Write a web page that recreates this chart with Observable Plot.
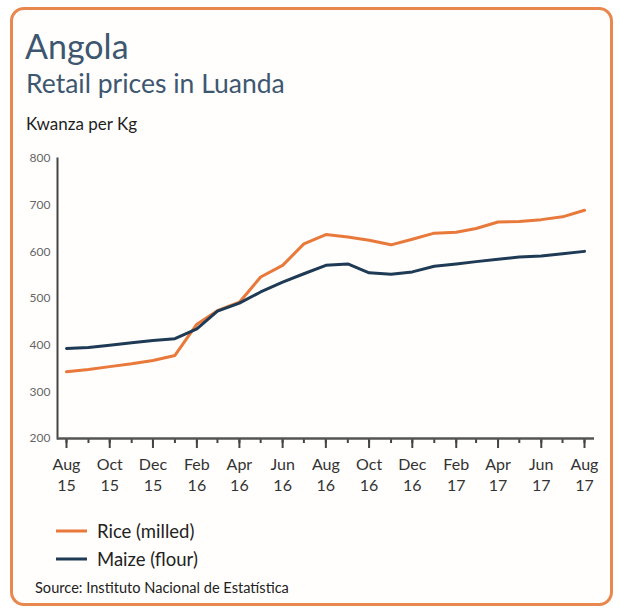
<!DOCTYPE html>
<html>
<head>
<meta charset="utf-8">
<script src="https://cdn.jsdelivr.net/npm/d3@7"></script>
<script src="https://cdn.jsdelivr.net/npm/@observablehq/plot@0.6"></script>
<style>
  html, body { margin: 0; padding: 0; background: #ffffff; }
  body { width: 620px; height: 611px; position: relative; overflow: hidden; font-family: Lato, "Open Sans", sans-serif; }
  .frame { position: absolute; left: 10px; top: 7px; width: 603px; height: 599px; box-sizing: border-box;
           border: 3px solid #E8874E; border-radius: 14px; background: #fffefc; }
  .t { position: absolute; white-space: nowrap; line-height: 1; }
  #title { left: 25px; top: 29px; font-size: 34px; color: #3e5771; }
  #subtitle { left: 26px; top: 70px; font-size: 26.5px; color: #3e5771; }
  #unit { left: 26px; top: 115px; font-size: 17px; color: #1e1e1e; }
  #chart { position: absolute; left: 0; top: 140px; }
  .leg { position: absolute; left: 56px; display: flex; align-items: center; font-size: 18.5px; color: #222; }
  .leg svg { margin-right: 10px; }
  #source { left: 35px; top: 581px; font-size: 14.6px; color: #222; }
</style>
</head>
<body>
<div class="frame"></div>
<div class="t" id="title">Angola</div>
<div class="t" id="subtitle">Retail prices in Luanda</div>
<div class="t" id="unit">Kwanza per Kg</div>
<div id="chart"></div>
<div id="legend"></div>
<div class="t" id="source">Source: Instituto Nacional de Estatística</div>
<script>
const months = ["2015-08","2015-09","2015-10","2015-11","2015-12","2016-01","2016-02","2016-03","2016-04","2016-05","2016-06","2016-07","2016-08","2016-09","2016-10","2016-11","2016-12","2017-01","2017-02","2017-03","2017-04","2017-05","2017-06","2017-07","2017-08"];
const rice  = [343,348,354,360,367,378,445,474,492,546,571,617,637,632,625,615,627,640,642,650,664,665,669,675,689];
const maize = [393,395,400,405,410,414,435,473,490,514,535,553,571,574,555,552,557,569,574,579,584,589,591,596,601];
const seriesNames = ["Rice (milled)", "Maize (flour)"];
const seriesColors = ["#E8793A", "#1E3A55"];
const yTicks = [200,300,400,500,600,700,800];

const parse = d3.utcParse("%Y-%m");
const dates = months.map(parse);
const majorDates = dates.filter((d, i) => i % 2 === 0);
const data = [
  ...dates.map((d, i) => ({date: d, value: rice[i], series: seriesNames[0]})),
  ...dates.map((d, i) => ({date: d, value: maize[i], series: seriesNames[1]}))
];
const fmt = d3.utcFormat("%b\n%y");

const chart = Plot.plot({
  width: 620,
  height: 360,
  marginTop: 18,
  marginBottom: 62,
  marginLeft: 57,
  marginRight: 26,
  style: {background: "transparent", fontFamily: "Lato, 'Open Sans', sans-serif", overflow: "visible"},
  x: {type: "utc", domain: [dates[0], dates[dates.length - 1]], insetLeft: 9, insetRight: 10},
  y: {domain: [200, 800]},
  color: {domain: seriesNames, range: seriesColors},
  marks: [
    Plot.ruleY(yTicks.filter(v => v !== 200), {
      stroke: d => (d === 500 || d === 800) ? "light" : "dark",
      strokeWidth: d => (d === 500 || d === 800) ? 3 : 1.2
    }),
    Plot.axisY({ticks: yTicks, tickSize: 0, tickPadding: 7, fontSize: 12, fill: "#666", label: null}),
    Plot.axisX({ticks: dates, tickSize: 5, tickFormat: () => "", stroke: "#444", strokeWidth: 2, label: null}),
    Plot.axisX({ticks: majorDates, tickSize: 10, tickPadding: 7, tickFormat: fmt, fontSize: 16, lineHeight: 1.3,
                fill: "#333", stroke: "#444", strokeWidth: 2, label: null}),
    Plot.frame({anchor: "left", stroke: "#444", strokeWidth: 2}),
    Plot.ruleY([200], {stroke: "#555", strokeWidth: 2.5}),
    Plot.line(data, {x: "date", y: "value", z: "series", stroke: "series", strokeWidth: 3, curve: "linear"})
  ]
});
// map grid style keys to colours
chart.querySelectorAll("line").forEach(l => {
  const s = l.getAttribute("stroke");
  if (s === "light") l.setAttribute("stroke", "#c8c8c8");
  if (s === "dark") l.setAttribute("stroke", "#5a5a5a");
});
document.getElementById("chart").appendChild(chart);

// legend
const legend = document.getElementById("legend");
seriesNames.forEach((name, i) => {
  const row = document.createElement("div");
  row.className = "leg";
  row.style.top = (519 + i * 28) + "px";
  row.style.height = "24px";
  row.innerHTML = `<svg width="31" height="4"><line x1="0" x2="31" y1="2" y2="2" stroke="${seriesColors[i]}" stroke-width="3"/></svg><span>${name}</span>`;
  legend.appendChild(row);
});
</script>
</body>
</html>
